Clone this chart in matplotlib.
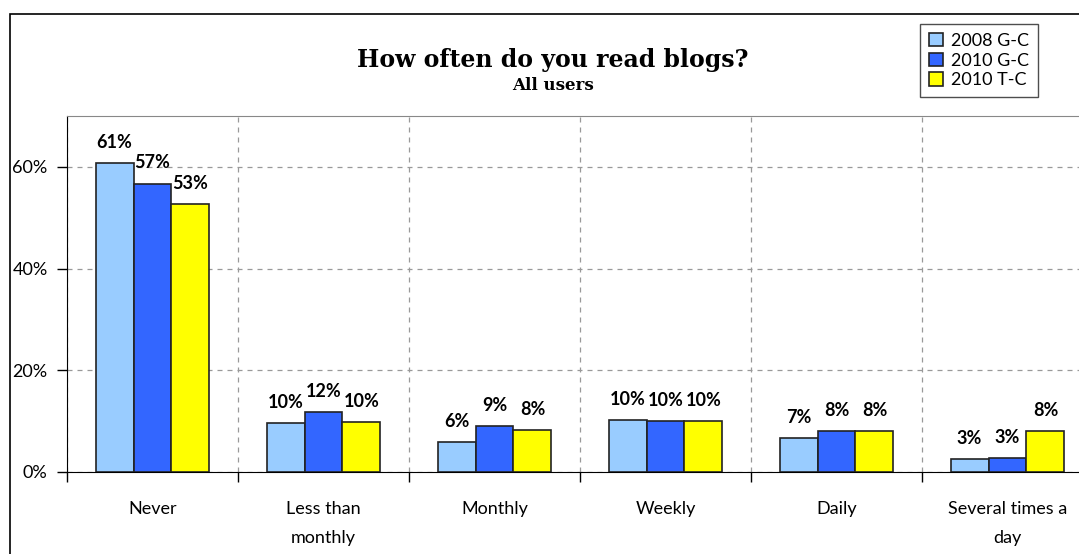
import matplotlib.pyplot as plt
import numpy as np
from matplotlib.patches import Rectangle

categories = ['Never', 'Less than\nmonthly', 'Monthly', 'Weekly', 'Daily',
              'Several times a\nday']
series = ['2008 G-C', '2010 G-C', '2010 T-C']
v2008gc = [60.8, 9.6, 5.9, 10.2, 6.6, 2.5]
v2010gc = [56.7, 11.7, 9.0, 10.0, 8.0, 2.8]
v2010tc = [52.7, 9.8, 8.2, 10.0, 8.0, 8.0]
labels_2008gc = ['61%', '10%', '6%', '10%', '7%', '3%']
labels_2010gc = ['57%', '12%', '9%', '10%', '8%', '3%']
labels_2010tc = ['53%', '10%', '8%', '10%', '8%', '8%']
colors = ['#99ccff', '#3366ff', '#ffff00']

plt.rcParams['font.family'] = ['Lato', 'DejaVu Sans']

W, H = 1079, 554
fig = plt.figure(figsize=(W / 100, H / 100), dpi=100)
ax = fig.add_axes([67 / W, (H - 472) / H, (1093 - 67) / W, (472 - 116) / H])

# outer chart border
fig.patches.append(Rectangle((10 / W, -0.05), 1.2, (H - 14) / H + 0.05,
                             transform=fig.transFigure, fill=False,
                             edgecolor='black', linewidth=1.2))

x = np.arange(len(categories))
bw = 0.222
vals = [v2008gc, v2010gc, v2010tc]
labs = [labels_2008gc, labels_2010gc, labels_2010tc]
for i, (v, lab, c, s) in enumerate(zip(vals, labs, colors, series)):
    pos = x + (i - 1) * bw
    ax.bar(pos, v, width=bw, color=c, edgecolor='#222222', linewidth=1.2,
           label=s, zorder=3)
    for p, val, t in zip(pos, v, lab):
        ax.text(p, val + 2.4, t, ha='center', va='bottom', fontsize=13,
                fontweight='bold', zorder=4)

ax.set_xlim(-0.5, len(categories) - 0.5)
ax.set_ylim(0, 70)
ax.set_yticks([0, 20, 40, 60])
ax.set_yticklabels(['0%', '20%', '40%', '60%'], fontsize=13)
ax.set_xticks(x)
ax.set_xticklabels(categories, fontsize=13, linespacing=2.0)
ax.tick_params(axis='x', length=0, pad=21)
ax.tick_params(axis='y', length=7, width=1, pad=7)
ax.set_xticks(np.arange(-0.5, len(categories), 1), minor=True)
ax.tick_params(axis='x', which='minor', length=7, width=1, direction='out')

ax.grid(axis='y', which='major', linestyle=(0, (4, 4)), color='#999999',
        linewidth=0.9, zorder=0)
ax.grid(axis='x', which='minor', linestyle=(0, (4, 4)), color='#999999',
        linewidth=0.9, zorder=0)
ax.grid(axis='x', which='major', visible=False)

ax.spines['top'].set_color('#888888')
ax.spines['right'].set_color('#888888')
ax.spines['left'].set_color('black')
ax.spines['bottom'].set_color('black')

fig.text(553 / W, 1 - 60 / H, 'How often do you read blogs?', ha='center',
         va='center', fontsize=17, fontweight='bold', family='DejaVu Serif')
fig.text(553 / W, 1 - 85 / H, 'All users', ha='center', va='center',
         fontsize=12, fontweight='bold', family='DejaVu Serif')

leg = fig.legend(loc='upper left', bbox_to_anchor=(920 / W, 1 - 24 / H),
                 fontsize=13, frameon=True, fancybox=False, handlelength=0.75,
                 handleheight=0.75, handletextpad=0.45, labelspacing=0.2,
                 borderpad=0.5, borderaxespad=0, edgecolor='#222222')
leg.get_frame().set_linewidth(1)

fig.savefig('out.png', dpi=100)
